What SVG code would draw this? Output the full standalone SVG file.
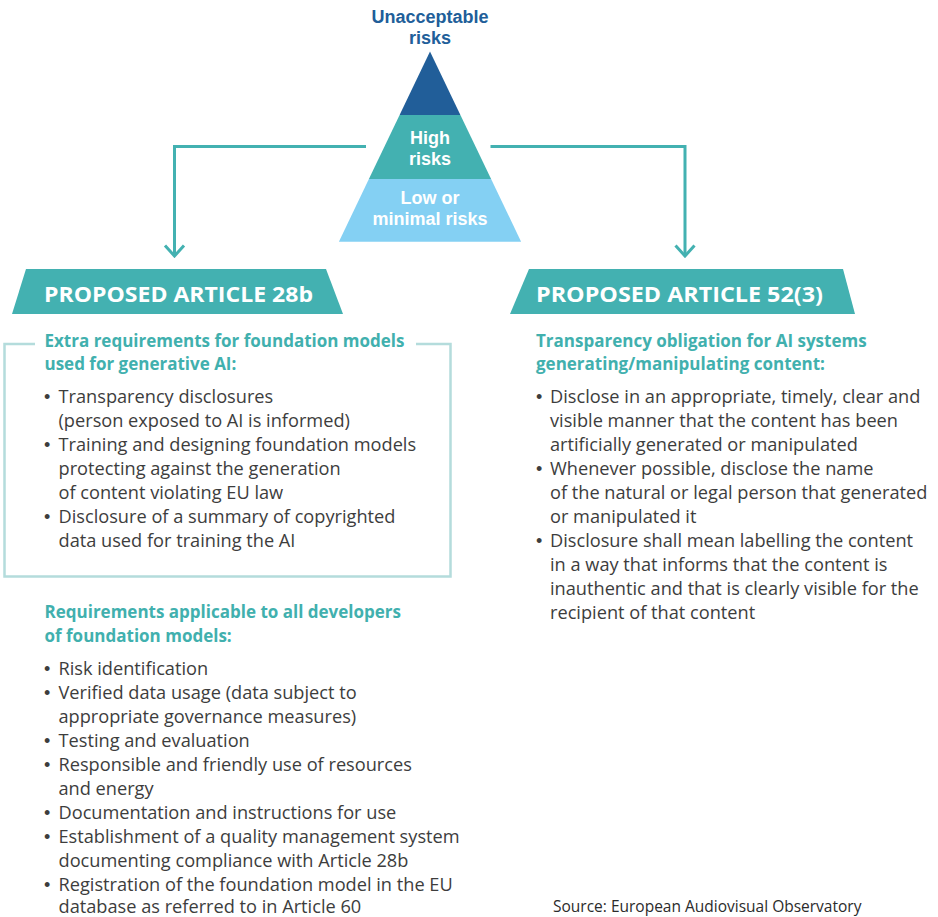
<svg xmlns="http://www.w3.org/2000/svg" width="938" height="917" viewBox="0 0 938 917">
  <defs>
    <style>
      .pyr-title { font-family: "Liberation Sans", Arial, sans-serif; font-weight: 700; font-size: 18px; text-anchor: middle; }
      .dark { fill: #215e99; }
      .white { fill: #ffffff; }
      .banner { fill: #43b1b1; }
      .banner-text { font-family: "Open Sans", "Liberation Sans", sans-serif; font-weight: 700; font-size: 21px; fill: #ffffff; }
      .head { font-family: "Open Sans", "Liberation Sans", sans-serif; font-weight: 700; font-size: 17px; fill: #41b0ae; }
      .body { font-family: "Open Sans", "Liberation Sans", sans-serif; font-size: 18.2px; fill: #3d3d3d; }
      .dot { font-family: "Liberation Sans", Arial, sans-serif; font-size: 18px; }
      .src { font-family: "Open Sans", "Liberation Sans", sans-serif; font-size: 15.5px; fill: #2b2b2b; }
      .conn { fill: none; stroke: #43b1b1; stroke-width: 3; }
      .frame { fill: none; stroke: #b4dcdc; stroke-width: 2.5; }
    </style>
    <marker id="chevron" markerUnits="userSpaceOnUse" viewBox="-12 -12 14 24" refX="0" refY="0" markerWidth="14" markerHeight="24" orient="auto">
      <path d="M-10.5,-9.5 L0,0 L-10.5,9.5" fill="none" stroke="#43b1b1" stroke-width="3"/>
    </marker>
  </defs>

  <rect width="938" height="917" fill="#ffffff"/>

  <!-- risk pyramid -->
  <g id="pyramid">
    <polygon points="430,51.5 460.4,115 399.6,115" fill="#215e99"/>
    <polygon points="399.6,115 460.4,115 491.1,179 368.9,179" fill="#43b1b1"/>
    <polygon points="368.9,179 491.1,179 521.1,241.7 338.9,241.7" fill="#84d0f3"/>
    <text class="pyr-title dark" x="430" y="23">Unacceptable</text>
    <text class="pyr-title dark" x="430" y="43.5">risks</text>
    <text class="pyr-title white" x="430" y="143.5">High</text>
    <text class="pyr-title white" x="430" y="165">risks</text>
    <text class="pyr-title white" x="430" y="204">Low or</text>
    <text class="pyr-title white" x="430" y="225">minimal risks</text>
  </g>

  <!-- connectors from the pyramid down to the two articles -->
  <g id="connectors">
    <path class="conn" d="M366,146.5 H174.5 V256" marker-end="url(#chevron)"/>
    <path class="conn" d="M490.5,146.5 H685 V256" marker-end="url(#chevron)"/>
  </g>

  <!-- Article 28b -->
  <g id="article-28b">
    <polygon class="banner" points="26,269 326,269 343,314 12,314"/>
    <text class="banner-text" x="44" y="302" textLength="269" lengthAdjust="spacingAndGlyphs">PROPOSED ARTICLE 28b</text>
  </g>

  <g id="generative-requirements">
    <path class="frame" d="M35,344 H4.5 V576.5 H450.5 V344 H416"/>
    <text class="head" x="44.5" y="346.5">Extra requirements for foundation models</text>
    <text class="head" x="44.5" y="370">used for generative AI:</text>
    <text class="body">
      <tspan class="dot" x="44" y="402.7">•</tspan><tspan x="58.5" y="402.7">Transparency disclosures</tspan>
      <tspan x="58.5" y="426.7">(person exposed to AI is informed)</tspan>
      <tspan class="dot" x="44" y="450.7">•</tspan><tspan x="58.5" y="450.7">Training and designing foundation models</tspan>
      <tspan x="58.5" y="474.7">protecting against the generation</tspan>
      <tspan x="58.5" y="498.7">of content violating EU law</tspan>
      <tspan class="dot" x="44" y="522.7">•</tspan><tspan x="58.5" y="522.7">Disclosure of a summary of copyrighted</tspan>
      <tspan x="58.5" y="546.7">data used for training the AI</tspan>
    </text>
  </g>

  <g id="all-developers">
    <text class="head" x="44.5" y="618.3">Requirements applicable to all developers</text>
    <text class="head" x="44.5" y="641.7">of foundation models:</text>
    <text class="body">
      <tspan class="dot" x="44" y="675">•</tspan><tspan x="58.5" y="675">Risk identification</tspan>
      <tspan class="dot" x="44" y="699">•</tspan><tspan x="58.5" y="699">Verified data usage (data subject to</tspan>
      <tspan x="58.5" y="723">appropriate governance measures)</tspan>
      <tspan class="dot" x="44" y="747">•</tspan><tspan x="58.5" y="747">Testing and evaluation</tspan>
      <tspan class="dot" x="44" y="771">•</tspan><tspan x="58.5" y="771">Responsible and friendly use of resources</tspan>
      <tspan x="58.5" y="795">and energy</tspan>
      <tspan class="dot" x="44" y="819">•</tspan><tspan x="58.5" y="819">Documentation and instructions for use</tspan>
      <tspan class="dot" x="44" y="843">•</tspan><tspan x="58.5" y="843">Establishment of a quality management system</tspan>
      <tspan x="58.5" y="867">documenting compliance with Article 28b</tspan>
      <tspan class="dot" x="44" y="890.5">•</tspan><tspan x="58.5" y="890.5">Registration of the foundation model in the EU</tspan>
      <tspan x="58.5" y="912.5">database as referred to in Article 60</tspan>
    </text>
  </g>

  <!-- Article 52(3) -->
  <g id="article-52-3">
    <polygon class="banner" points="529,269 843,269 855,314 510,314"/>
    <text class="banner-text" x="536" y="302" textLength="287" lengthAdjust="spacingAndGlyphs">PROPOSED ARTICLE 52(3)</text>
  </g>

  <g id="transparency-obligation">
    <text class="head" x="536" y="346.5">Transparency obligation for AI systems</text>
    <text class="head" x="536" y="370">generating/manipulating content:</text>
    <text class="body">
      <tspan class="dot" x="536" y="402.7">•</tspan><tspan x="550" y="402.7">Disclose in an appropriate, timely, clear and</tspan>
      <tspan x="550" y="426.7">visible manner that the content has been</tspan>
      <tspan x="550" y="450.7">artificially generated or manipulated</tspan>
      <tspan class="dot" x="536" y="474.7">•</tspan><tspan x="550" y="474.7">Whenever possible, disclose the name</tspan>
      <tspan x="550" y="498.7">of the natural or legal person that generated</tspan>
      <tspan x="550" y="522.7">or manipulated it</tspan>
      <tspan class="dot" x="536" y="546.7">•</tspan><tspan x="550" y="546.7">Disclosure shall mean labelling the content</tspan>
      <tspan x="550" y="570.7">in a way that informs that the content is</tspan>
      <tspan x="550" y="594.7">inauthentic and that is clearly visible for the</tspan>
      <tspan x="550" y="618.7">recipient of that content</tspan>
    </text>
  </g>

  <text class="src" x="553" y="912">Source: European Audiovisual Observatory</text>
</svg>
